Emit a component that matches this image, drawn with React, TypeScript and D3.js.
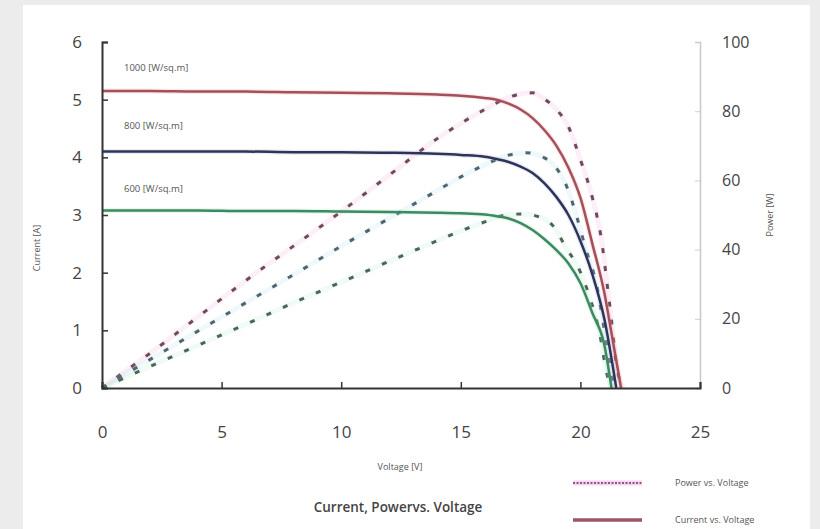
import * as d3 from "d3";
import { useEffect, useRef } from "react";

// Current curves (A) at three irradiance levels
const v1000 = [0, 2, 4, 6, 8, 10, 12, 14, 15, 16, 16.5, 17, 17.5, 18, 18.5, 19, 19.5, 20, 20.5, 21, 21.3, 21.7];
const i1000 = [5.15, 5.15, 5.14, 5.14, 5.13, 5.12, 5.11, 5.09, 5.07, 5.03, 5.0, 4.93, 4.83, 4.68, 4.47, 4.2, 3.82, 3.3, 2.5, 1.65, 0.95, 0];

const v800 = [0, 2, 4, 6, 8, 10, 12, 14, 15, 16, 16.5, 17, 17.5, 18, 18.5, 19, 19.5, 20, 20.5, 21, 21.5];
const i800 = [4.1, 4.1, 4.1, 4.1, 4.09, 4.09, 4.08, 4.06, 4.04, 4.01, 3.97, 3.92, 3.84, 3.73, 3.55, 3.31, 3.0, 2.55, 1.97, 1.2, 0];

const v600 = [0, 2, 4, 6, 8, 10, 12, 14, 15, 16, 16.5, 17, 17.5, 18, 18.5, 19, 19.5, 20, 20.5, 21, 21.3];
const i600 = [3.08, 3.08, 3.08, 3.07, 3.07, 3.06, 3.05, 3.04, 3.03, 3.01, 2.98, 2.94, 2.86, 2.74, 2.58, 2.39, 2.16, 1.82, 1.3, 0.75, 0];

// Power curves (W)
const pv1000 = [0, 1, 2, 4, 6, 8, 10, 12, 14, 15, 16, 17, 17.5, 18, 18.5, 19, 19.5, 20, 20.5, 20.9, 21.1, 21.3, 21.5, 21.8];
const p1000 = [0, 5, 10, 20.5, 31, 41, 51, 61.5, 72, 76.5, 80.5, 84, 85, 85.3, 83.5, 80.5, 75.5, 66, 55, 42, 31, 19.6, 7, 0];

const pv800 = [0, 2, 4, 6, 8, 10, 12, 14, 15, 16, 17, 17.7, 18.5, 19, 19.5, 19.8, 20.2, 20.7, 21, 21.4];
const p800 = [0, 8.2, 16.4, 24.6, 32.7, 41, 49, 57, 61, 64.5, 67.3, 68, 66.5, 63.5, 57, 50.6, 40.8, 29, 16.8, 0];

const pv600 = [0, 2, 4, 6, 8, 10, 12, 14, 15, 16, 16.9, 17.6, 18.3, 18.9, 19.4, 19.9, 20.4, 20.8, 21.1, 21.3];
const p600 = [0, 6.2, 12.3, 18.4, 24.6, 30.6, 36.6, 42.5, 45.4, 48, 50, 50.3, 49.4, 46.5, 40.5, 35, 26, 16, 4.3, 0];

const irradianceLabels = ["1000 [W/sq.m]", "800 [W/sq.m]", "600 [W/sq.m]"];
const xTicks = [0, 5, 10, 15, 20, 25];
const currentTicks = [0, 1, 2, 3, 4, 5, 6];
const powerTicks = [0, 20, 40, 60, 80, 100];

const App = () => {
  const svgRef = useRef(null);

  useEffect(() => {
    const svg = d3.select(svgRef.current);
    svg.selectAll("*").remove();

    const font = "'Open Sans', 'DejaVu Sans', sans-serif";

    // background + white panel
    svg.append("rect").attr("width", 820).attr("height", 529).attr("fill", "#ececec");
    svg.append("rect").attr("x", 23).attr("y", 5).attr("width", 787).attr("height", 530).attr("fill", "#ffffff");

    const x = d3.scaleLinear().domain([0, 25]).range([102, 700]);
    const yI = d3.scaleLinear().domain([0, 6]).range([388, 42]);
    const yP = d3.scaleLinear().domain([0, 100]).range([388, 42]);

    const currentSeries = [
      { v: v1000, y: i1000, color: "#a4505a", glow: "#f2a0a8" },
      { v: v800, y: i800, color: "#2e3458", glow: "#a8b4e0" },
      { v: v600, y: i600, color: "#3d8a62", glow: "#9ce0bc" },
    ];
    const powerSeries = [
      { v: pv1000, y: p1000, color: "#6e4a5c", glow: "#f0a8d0" },
      { v: pv800, y: p800, color: "#53646f", glow: "#a8e0e8" },
      { v: pv600, y: p600, color: "#4d6459", glow: "#a8e8c4" },
    ];

    const plot = svg.append("g");

    // power (dotted) curves
    powerSeries.forEach((s) => {
      const pts = s.v.map((d, i) => [d, s.y[i]]);
      const line = d3
        .line()
        .x((d) => x(d[0]))
        .y((d) => yP(d[1]))
        .curve(d3.curveMonotoneX);
      plot
        .append("path")
        .attr("d", line(pts))
        .attr("fill", "none")
        .attr("stroke", s.glow)
        .attr("stroke-opacity", 0.18)
        .attr("stroke-width", 5);
      plot
        .append("path")
        .attr("d", line(pts))
        .attr("fill", "none")
        .attr("stroke", s.color)
        .attr("stroke-width", 3)
        .attr("stroke-dasharray", "5,13");
    });

    // current (solid) curves
    currentSeries.forEach((s) => {
      const pts = s.v.map((d, i) => [d, s.y[i]]);
      const line = d3
        .line()
        .x((d) => x(d[0]))
        .y((d) => yI(d[1]))
        .curve(d3.curveMonotoneX);
      plot
        .append("path")
        .attr("d", line(pts))
        .attr("fill", "none")
        .attr("stroke", s.glow)
        .attr("stroke-opacity", 0.25)
        .attr("stroke-width", 5);
      plot
        .append("path")
        .attr("d", line(pts))
        .attr("fill", "none")
        .attr("stroke", s.color)
        .attr("stroke-width", 2.5);
    });

    // irradiance labels
    const labelY = [5.55, 4.55, 3.45];
    irradianceLabels.forEach((t, i) => {
      svg
        .append("text")
        .attr("x", 124)
        .attr("y", yI(labelY[i]))
        .attr("dy", "0.35em")
        .attr("font-family", font)
        .attr("font-size", 9.5)
        .attr("fill", "#555")
        .text(t);
    });

    // right axis (power)
    const rightAxis = svg
      .append("g")
      .attr("transform", "translate(700,0)")
      .call(d3.axisRight(yP).tickValues(powerTicks).tickSize(-5).tickPadding(22).tickFormat(d3.format("d")));
    rightAxis.select(".domain").attr("stroke", "#c8c8c8").attr("stroke-width", 1.5);
    rightAxis.selectAll(".tick line").attr("stroke", "#cfcfcf");
    rightAxis
      .selectAll("text")
      .attr("font-family", font)
      .attr("font-size", 16)
      .attr("fill", "#444");

    // left axis (current)
    const leftAxis = svg
      .append("g")
      .attr("transform", "translate(102,0)")
      .call(d3.axisLeft(yI).tickValues(currentTicks).tickSize(-6).tickPadding(20).tickFormat(d3.format("d")));
    leftAxis.select(".domain").attr("stroke", "#333").attr("stroke-width", 2);
    leftAxis.selectAll(".tick line").attr("stroke", "#333").attr("stroke-width", 1.5);
    leftAxis
      .selectAll("text")
      .attr("font-family", font)
      .attr("font-size", 17)
      .attr("fill", "#444");

    // bottom axis (voltage)
    const bottomAxis = svg
      .append("g")
      .attr("transform", "translate(0,388)")
      .call(d3.axisBottom(x).tickValues(xTicks).tickSize(-6).tickPadding(38).tickFormat(d3.format("d")));
    bottomAxis.select(".domain").attr("stroke", "#333").attr("stroke-width", 2);
    bottomAxis.selectAll(".tick line").attr("stroke", "#333").attr("stroke-width", 1.5);
    bottomAxis
      .selectAll("text")
      .attr("font-family", font)
      .attr("font-size", 17)
      .attr("fill", "#444");

    // axis titles
    svg
      .append("text")
      .attr("transform", "translate(40,248) rotate(-90)")
      .attr("text-anchor", "middle")
      .attr("font-family", font)
      .attr("font-size", 9)
      .attr("fill", "#555")
      .text("Current [A]");
    svg
      .append("text")
      .attr("transform", "translate(773,215) rotate(-90)")
      .attr("text-anchor", "middle")
      .attr("font-family", font)
      .attr("font-size", 9)
      .attr("fill", "#555")
      .text("Power [W]");
    svg
      .append("text")
      .attr("x", 400)
      .attr("y", 470)
      .attr("text-anchor", "middle")
      .attr("font-family", font)
      .attr("font-size", 9)
      .attr("fill", "#555")
      .text("Voltage [V]");
    svg
      .append("text")
      .attr("x", 398)
      .attr("y", 512)
      .attr("text-anchor", "middle")
      .attr("font-family", font)
      .attr("font-size", 13.5)
      .attr("font-weight", 600)
      .attr("fill", "#444")
      .text("Current, Powervs. Voltage");

    // legend
    const legend = svg.append("g").attr("transform", "translate(573,0)");
    legend
      .append("line")
      .attr("x1", 0)
      .attr("x2", 69)
      .attr("y1", 483)
      .attr("y2", 483)
      .attr("stroke", "#f0a8e0")
      .attr("stroke-opacity", 0.5)
      .attr("stroke-width", 5);
    legend
      .append("line")
      .attr("x1", 0)
      .attr("x2", 69)
      .attr("y1", 483)
      .attr("y2", 483)
      .attr("stroke", "#8a5a88")
      .attr("stroke-width", 2)
      .attr("stroke-dasharray", "2,1.5");
    legend
      .append("line")
      .attr("x1", 0)
      .attr("x2", 69)
      .attr("y1", 520)
      .attr("y2", 520)
      .attr("stroke", "#9c5468")
      .attr("stroke-width", 3.5);
    legend
      .append("text")
      .attr("x", 102)
      .attr("y", 483)
      .attr("dy", "0.35em")
      .attr("font-family", font)
      .attr("font-size", 9)
      .attr("fill", "#555")
      .text("Power vs. Voltage");
    legend
      .append("text")
      .attr("x", 102)
      .attr("y", 520)
      .attr("dy", "0.35em")
      .attr("font-family", font)
      .attr("font-size", 9)
      .attr("fill", "#555")
      .text("Current vs. Voltage");
  }, []);

  return (
    <svg
      ref={svgRef}
      width={820}
      height={529}
      style={{ position: "absolute", left: 0, top: 0, display: "block" }}
    ></svg>
  );
};

export default App;
